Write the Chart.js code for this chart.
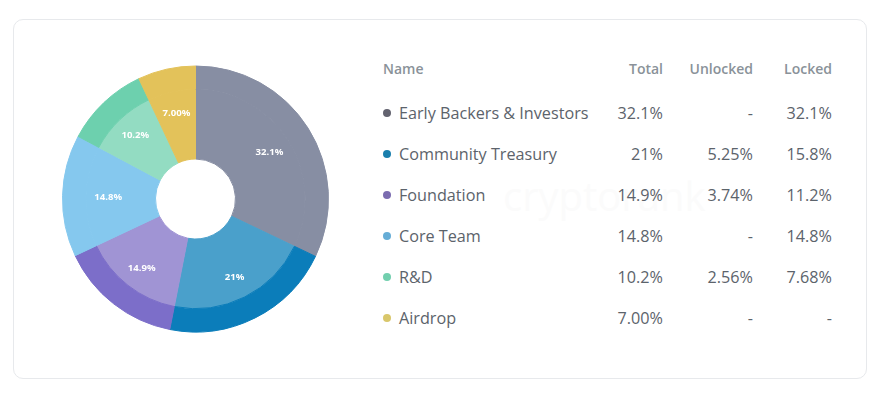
<!DOCTYPE html>
<html>
<head>
<meta charset="utf-8">
<script src="https://cdn.jsdelivr.net/npm/chart.js@4"></script>
<style>
    html, body { margin: 0; padding: 0; background: #fff; width: 890px; height: 408px; overflow: hidden; }
    body { font-family: "Open Sans", "Noto Sans", sans-serif; position: relative; }
    .card { position: absolute; left: 13px; top: 19px; width: 852px; height: 358px; border: 1px solid #e7e9ec; border-radius: 10px; }
    .grafico { position: absolute; left: 55px; top: 58.5px; width: 281px; height: 280px; }
    .marca { position: absolute; left: 503px; top: 168px; font-size: 40px; color: #fbfbfb; }
    table { position: absolute; left: 383px; top: 44px; border-collapse: collapse; table-layout: fixed; width: 449px; }
    th { font-size: 14px; font-weight: 600; color: #8a9299; height: 48px; padding: 0; text-align: right; }
    td { font-size: 16.2px; color: #5c636b; height: 41px; padding: 0; text-align: right; white-space: nowrap; }
    th:first-child, td:first-child { text-align: left; }
    .ponto { display: inline-block; width: 8px; height: 8px; border-radius: 50%; margin-right: 8px; vertical-align: 2px; }
</style>
</head>
<body>
<div class="card"></div>
<div class="grafico"><canvas id="grafico" width="281" height="280"></canvas></div>
<div class="marca">cryptorank</div>
<table id="tabela">
    <colgroup><col style="width:220px"><col style="width:60px"><col style="width:90px"><col style="width:79px"></colgroup>
    <thead><tr id="cabecalho"></tr></thead>
    <tbody></tbody>
</table>
<script>
const colunas = ["Name", "Total", "Unlocked", "Locked"];
const nomes = ["Early Backers & Investors", "Community Treasury", "Foundation", "Core Team", "R&D", "Airdrop"];
const valores = [32.1, 21, 14.9, 14.8, 10.2, 7.00];
const textoTotal = ["32.1%", "21%", "14.9%", "14.8%", "10.2%", "7.00%"];
const textoUnlocked = ["-", "5.25%", "3.74%", "-", "2.56%", "-"];
const textoLocked = ["32.1%", "15.8%", "11.2%", "14.8%", "7.68%", "-"];
const coresPonto = ["#63636f", "#1a7fad", "#7b6cb0", "#66add6", "#72cfae", "#d9c76b"];
const coresFora = ["#878ea3", "#0b7dba", "#7c6ec9", "#85c8ee", "#6dd0ae", "#e3c25a"];
const coresDentro = ["#878ea3", "#4aa0cb", "#a094d4", "#85c8ee", "#93dcc2", "#e3c25a"];

/* =========================
   TABELA
========================= */

document.getElementById("cabecalho").innerHTML = colunas.map(c => `<th>${c}</th>`).join("");

const corpo = document.querySelector("#tabela tbody");
nomes.forEach((nome, i) => {
    const tr = document.createElement("tr");
    const nomeSeguro = nome.replace("&", "&amp;");
    tr.innerHTML = `<td><span class="ponto" style="background:${coresPonto[i]}"></span>${nomeSeguro}</td>` +
        `<td>${textoTotal[i]}</td><td>${textoUnlocked[i]}</td><td>${textoLocked[i]}</td>`;
    corpo.appendChild(tr);
});

/* =========================
   GRÁFICO
========================= */

// rótulos brancos sobre cada fatia
const rotulos = {
    id: "rotulos",
    afterDatasetsDraw(chart) {
        const ctx = chart.ctx;
        const arcos = chart.getDatasetMeta(1).data;
        ctx.save();
        ctx.font = "700 9.6px 'Open Sans'";
        ctx.fillStyle = "#fff";
        ctx.textAlign = "center";
        ctx.textBaseline = "middle";
        arcos.forEach((arco, i) => {
            const meio = (arco.startAngle + arco.endAngle) / 2;
            const r = arco.innerRadius + (arco.outerRadius - arco.innerRadius) * 0.68;
            ctx.fillText(textoTotal[i], arco.x + Math.cos(meio) * r, arco.y + Math.sin(meio) * r);
        });
        ctx.restore();
    }
};

new Chart(document.getElementById("grafico"), {
    type: "doughnut",
    data: {
        labels: nomes,
        datasets: [
            { data: valores, backgroundColor: coresFora, borderColor: coresFora, borderWidth: 1, weight: 23.5 },
            { data: valores, backgroundColor: coresDentro, borderColor: coresDentro, borderWidth: 1, weight: 70 }
        ]
    },
    options: {
        responsive: false,
        animation: false,
        cutout: 40,
        layout: { padding: 6.5 },
        plugins: { legend: { display: false }, tooltip: { enabled: false } }
    },
    plugins: [rotulos]
});
</script>
</body>
</html>
